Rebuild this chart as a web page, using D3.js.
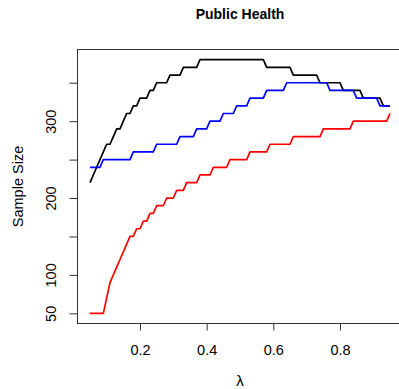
<!DOCTYPE html>
<html>
<head>
<meta charset="utf-8">
<script src="https://cdn.jsdelivr.net/npm/d3@7"></script>
<style>
  html, body { margin: 0; padding: 0; background: #fff; }
  svg { display: block; }
  text { font-family: "Liberation Sans", Arial, Helvetica, sans-serif; fill: #000; }
</style>
</head>
<body>
<svg id="chart" width="399" height="389"></svg>
<script>
const lambda = [0.05,0.06,0.07,0.08,0.09,0.10,0.11,0.12,0.13,0.14,0.15,0.16,0.17,0.18,0.19,
  0.20,0.21,0.22,0.23,0.24,0.25,0.26,0.27,0.28,0.29,0.30,0.31,0.32,0.33,0.34,0.35,0.36,0.37,
  0.38,0.39,0.40,0.41,0.42,0.43,0.44,0.45,0.46,0.47,0.48,0.49,0.50,0.51,0.52,0.53,0.54,0.55,
  0.56,0.57,0.58,0.59,0.60,0.61,0.62,0.63,0.64,0.65,0.66,0.67,0.68,0.69,0.70,0.71,0.72,0.73,
  0.74,0.75,0.76,0.77,0.78,0.79,0.80,0.81,0.82,0.83,0.84,0.85,0.86,0.87,0.88,0.89,0.90,0.91,
  0.92,0.93,0.94,0.95];

const blackSeries = [220,230,240,250,260,270,270,280,290,290,300,310,310,320,320,
  330,330,330,340,340,350,350,350,350,360,360,360,360,370,370,370,370,370,
  380,380,380,380,380,380,380,380,380,380,380,380,380,380,380,380,380,380,380,380,
  370,370,370,370,370,370,370,370,
  360,360,360,360,360,360,360,360,
  350,350,350,350,350,350,350,
  340,340,340,340,340,340,
  330,330,330,330,330,330,
  320,320,320];

const blueSeries = [240,240,240,240,
  250,250,250,250,250,250,250,250,250,
  260,260,260,260,260,260,260,
  270,270,270,270,270,270,270,
  280,280,280,280,280,
  290,290,290,290,
  300,300,300,300,
  310,310,310,310,
  320,320,320,320,
  330,330,330,330,330,
  340,340,340,340,340,340,
  350,350,350,350,350,350,350,350,350,350,350,350,350,
  340,340,340,340,340,340,340,340,
  330,330,330,330,330,330,330,
  320,320,320,320];

const redSeries = [50,50,50,50,50,
  70,90,100,110,120,130,140,
  150,150,160,160,170,170,180,180,
  190,190,190,200,200,200,210,210,210,
  220,220,220,220,230,230,230,230,
  240,240,240,240,240,
  250,250,250,250,250,250,
  260,260,260,260,260,260,
  270,270,270,270,270,270,270,
  280,280,280,280,280,280,280,280,280,
  290,290,290,290,290,290,290,290,290,
  300,300,300,300,300,300,300,300,300,300,300,
  310];

const xTicks = [0.2, 0.4, 0.6, 0.8];
const xTickLabels = ["0.2", "0.4", "0.6", "0.8"];
const yTicks = [50, 100, 150, 200, 250, 300, 350];
const yTickLabels = ["50", "100", "", "200", "", "300", ""];

const titleText = "Public Health";
const xLabel = "λ";
const yLabel = "Sample Size";

(function () {
const svg = d3.select("#chart");
const pLeft = 78, pRight = 402, pTop = 50, pBottom = 323;

const x = d3.scaleLinear().domain([0.014, 0.986]).range([pLeft, pRight]);
const y = d3.scaleLinear().domain([37.4, 392.6]).range([pBottom, pTop]);

// box
svg.append("rect")
  .attr("x", pLeft - 0.5).attr("y", pTop - 0.5)
  .attr("width", pRight - pLeft + 1).attr("height", pBottom - pTop + 1)
  .attr("fill", "none").attr("stroke", "#333").attr("stroke-width", 1);

// x axis
const xAxis = d3.axisBottom(x).tickValues(xTicks).tickSize(7).tickPadding(14)
  .tickFormat((d, i) => xTickLabels[i]);
const gx = svg.append("g").attr("transform", `translate(0,${pBottom + 0.5})`).call(xAxis);
gx.select(".domain").remove();
gx.selectAll(".tick line").attr("stroke", "#333");
gx.selectAll(".tick text").style("font-size", "14.5px").attr("fill", "#000")
  .style("font-family", '"Liberation Sans", Arial, sans-serif');

// y axis
const yAxis = d3.axisLeft(y).tickValues(yTicks).tickSize(8)
  .tickFormat((d, i) => yTickLabels[i]);
const gy = svg.append("g").attr("transform", `translate(${pLeft - 0.5},0)`).call(yAxis);
gy.select(".domain").remove();
gy.selectAll(".tick line").attr("stroke", "#333");
gy.selectAll(".tick text")
  .attr("x", null).attr("dy", null)
  .attr("text-anchor", "middle")
  .attr("dominant-baseline", "central")
  .attr("transform", "translate(-27,0) rotate(-90)")
  .style("font-size", "14.5px").attr("fill", "#000")
  .style("font-family", '"Liberation Sans", Arial, sans-serif');

// lines
const line = d3.line().x((d, i) => x(lambda[i])).y(d => y(d));
const series = [
  { values: blackSeries, color: "#000000" },
  { values: blueSeries, color: "#0000ff" },
  { values: redSeries, color: "#ff0000" }
];
svg.append("g").selectAll("path").data(series).join("path")
  .attr("d", d => line(d.values))
  .attr("fill", "none")
  .attr("stroke", d => d.color)
  .attr("stroke-width", 1.7)
  .attr("stroke-linejoin", "round");

// title
svg.append("text").attr("x", (pLeft + pRight) / 2).attr("y", 14)
  .attr("text-anchor", "middle").attr("dominant-baseline", "central")
  .style("font-size", "14px").style("font-weight", "bold").text(titleText);

// x label
svg.append("text").attr("x", (pLeft + pRight) / 2).attr("y", 380)
  .attr("text-anchor", "middle").attr("dominant-baseline", "central")
  .style("font-size", "15px").text(xLabel);

// y label
svg.append("text").attr("transform", `translate(18,${(pTop + pBottom) / 2}) rotate(-90)`)
  .attr("text-anchor", "middle").attr("dominant-baseline", "central")
  .style("font-size", "14.5px").text(yLabel);
})();
</script>
</body>
</html>
